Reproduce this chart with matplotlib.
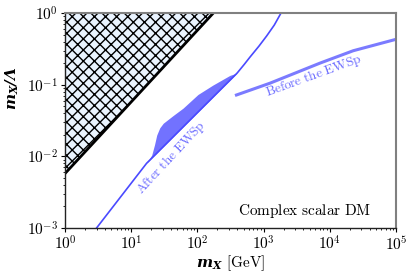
"""Complex scalar DM: m_X / Lambda versus m_X."""

import matplotlib

matplotlib.use("Agg")

import matplotlib.pyplot as plt

plt.rcParams["mathtext.fontset"] = "cm"
plt.rcParams["font.family"] = ["cmr10", "DejaVu Serif"]
plt.rcParams["axes.formatter.use_mathtext"] = True
plt.rcParams["hatch.linewidth"] = 1.0

# excluded region boundary (m_X / Lambda with Lambda below the weak scale)
excl_mass = [1.0, 174.0]
excl_ratio = [0.00575, 1.0]

# after the EWSp: main curve and band
after_mass = [3.0, 17.1, 400.0, 510.0, 623.0, 850.0, 1114.0, 1450.0, 1832.0]
after_ratio = [0.001, 0.008, 0.146, 0.192, 0.243, 0.345, 0.48, 0.68, 1.0]
band_mass = [17.1, 20.4, 22.5, 24.3, 27.0, 30.5, 42.8, 60.6, 102.0, 172.0, 310.0, 400.0]
band_low = [0.008, 0.0094, 0.0103, 0.011, 0.0122, 0.0136, 0.0186, 0.0256, 0.0414,
            0.067, 0.115, 0.146]
band_high = [0.008, 0.0104, 0.0145, 0.0198, 0.025, 0.029, 0.037, 0.047, 0.073,
             0.099, 0.135, 0.146]

# before the EWSp
before_mass = [389.0, 1250.0, 7100.0, 22600.0, 100000.0]
before_ratio = [0.0718, 0.105, 0.2, 0.298, 0.43]

fig = plt.figure(figsize=(4.14, 2.78), dpi=100)
ax = fig.add_axes([0.157, 0.18, 0.7995, 0.773])

ax.fill_between(excl_mass, excl_ratio, [1.0, 1.0], facecolor="#eaf4ff",
                edgecolor="black", hatch="xxx", linewidth=0)
ax.plot(excl_mass, excl_ratio, color="black", linewidth=2)

ax.fill_between(band_mass, band_low, band_high, color="#7272ff", linewidth=0)
ax.plot(after_mass, after_ratio, color="#4a4aff", linewidth=1.2)
ax.plot(before_mass, before_ratio, color="#7b7bff", linewidth=2.2)

ax.text(40, 0.0095, r"$\mathrm{After\ the\ EWSp}$", color="#6a6aff",
        fontsize=9.5, rotation=47, ha="center", va="center")
ax.text(5800, 0.132, r"$\mathrm{Before\ the\ EWSp}$", color="#6a6aff",
        fontsize=9.5, rotation=20, ha="center", va="center")
ax.text(0.925, 0.035, r"$\mathrm{Complex\ scalar\ DM}$", transform=ax.transAxes,
        fontsize=11, ha="right", va="bottom")

ax.set_xscale("log")
ax.set_yscale("log")
ax.set_xlim(1, 1e5)
ax.set_ylim(1e-3, 1)
ax.set_xlabel(r"$\mathbfit{m_X}$ [GeV]", fontsize=11, labelpad=0,
              math_fontfamily="dejavuserif")
ax.set_ylabel(r"$\mathbfit{m_X/\Lambda}$", fontsize=11, labelpad=4, y=0.65,
              math_fontfamily="dejavuserif")
ax.tick_params(labelsize=11, length=3, width=0.8, pad=2)
ax.tick_params(which="minor", length=1.5, width=0.6)

for side in ["top", "right"]:
    ax.spines[side].set_color("#808080")
    ax.spines[side].set_linewidth(1.5)
for side in ["left", "bottom"]:
    ax.spines[side].set_color("#222222")
    ax.spines[side].set_linewidth(1.0)

fig.savefig("out.png", dpi=100)
